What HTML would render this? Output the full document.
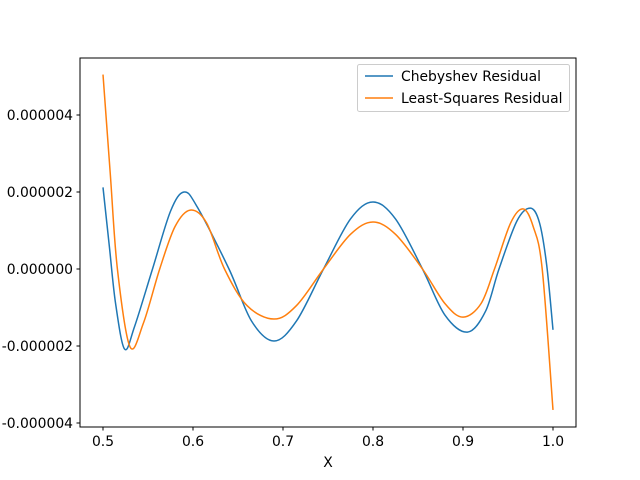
<!DOCTYPE html>
<html><head><meta charset="utf-8"><style>
body{margin:0;background:#fff}
svg{font-family:"DejaVu Sans","Liberation Sans",sans-serif;display:block}
</style></head><body>
<svg id="chart" width="640" height="480">
<rect x="0" y="0" width="640" height="480" fill="#fff"/>
<g id="plot"></g>
<rect x="80" y="58" width="496" height="369" fill="none" stroke="#000" stroke-width="1"/>
<g id="ticks"></g>
<text x="328" y="467" font-size="13.9" text-anchor="middle">X</text>
<g>
<rect x="357.5" y="64.5" width="212" height="47" rx="2" fill="#fff" fill-opacity="0.8" stroke="#ccc"/>
<line x1="365" y1="76" x2="393" y2="76" stroke="#1f77b4" stroke-width="1.5"/>
<text x="401" y="81" font-size="13.9">Chebyshev Residual</text>
<line x1="365" y1="98" x2="393" y2="98" stroke="#ff7f0e" stroke-width="1.5"/>
<text x="401" y="103" font-size="13.9">Least-Squares Residual</text>
</g>
</svg>
<script>
const xTicks=[0.5,0.6,0.7,0.8,0.9,1.0];
const yTicks=[-4,-2,0,2,4];
const yTickLabels=["-0.000004","-0.000002","0.000000","0.000002","0.000004"];
const chebX=[0.5,0.507,0.514,0.524,0.535,0.555,0.575,0.59,0.605,0.64,0.665,0.69,0.715,0.745,0.775,0.8,0.825,0.855,0.88,0.905,0.925,0.94,0.96,0.975,0.985,0.993,1.0];
const chebY=[2.12,0.6,-0.9,-2.08,-1.5,0,1.5,2.0,1.6,0,-1.35,-1.87,-1.35,0,1.3,1.74,1.3,0,-1.2,-1.64,-1.1,0,1.25,1.58,1.2,0.1,-1.58];
const lsqX=[0.5,0.508,0.516,0.53,0.545,0.563,0.58,0.597,0.615,0.635,0.66,0.69,0.715,0.745,0.775,0.8,0.825,0.855,0.88,0.9,0.92,0.935,0.953,0.967,0.978,0.988,1.0];
const lsqY=[5.05,2.5,0,-2.02,-1.4,0,1.1,1.53,1.2,0,-0.95,-1.3,-0.95,0,0.9,1.22,0.9,0,-0.9,-1.25,-0.9,0,1.2,1.56,1.1,0,-3.66];
const NS="http://www.w3.org/2000/svg";
function sx(v){return 103+(v-0.5)*900;}
function sy(v){return 269-v*38.5;}
function pathFor(xs,ys){
  const p=xs.map((x,i)=>[sx(x),sy(ys[i])]);
  let d="M"+p[0][0]+","+p[0][1];
  for(let i=0;i<p.length-1;i++){
    const p0=p[i-1]||p[i],p1=p[i],p2=p[i+1],p3=p[i+2]||p[i+1];
    const c1=[p1[0]+(p2[0]-p0[0])/6,p1[1]+(p2[1]-p0[1])/6];
    const c2=[p2[0]-(p3[0]-p1[0])/6,p2[1]-(p3[1]-p1[1])/6];
    d+=" C"+c1+" "+c2+" "+p2;
  }
  return d;
}
const plot=document.getElementById('plot');
[[chebX,chebY,"#1f77b4","chebyshev-residual-line"],[lsqX,lsqY,"#ff7f0e","least-squares-residual-line"]].forEach(s=>{
  const el=document.createElementNS(NS,'path');
  el.setAttribute('d',pathFor(s[0],s[1]));
  el.setAttribute('fill','none');el.setAttribute('stroke',s[2]);el.setAttribute('stroke-width','1.5');
  
  
  plot.appendChild(el);
});
const tk=document.getElementById('ticks');
xTicks.forEach(v=>{
  const l=document.createElementNS(NS,'line');
  l.setAttribute('x1',sx(v));l.setAttribute('x2',sx(v));l.setAttribute('y1',427);l.setAttribute('y2',430.5);l.setAttribute('stroke','#000');
  
  
  tk.appendChild(l);
  const t=document.createElementNS(NS,'text');
  t.setAttribute('x',sx(v));t.setAttribute('y',446);t.setAttribute('font-size','13.9');t.setAttribute('text-anchor','middle');
  t.textContent=v.toFixed(1);
  
  
  tk.appendChild(t);
});
yTicks.forEach((v,i)=>{
  const l=document.createElementNS(NS,'line');
  l.setAttribute('x1',76.5);l.setAttribute('x2',80);l.setAttribute('y1',sy(v));l.setAttribute('y2',sy(v));l.setAttribute('stroke','#000');
  
  
  tk.appendChild(l);
  const t=document.createElementNS(NS,'text');
  t.setAttribute('x',73);t.setAttribute('y',sy(v)+5);t.setAttribute('font-size','13.9');t.setAttribute('text-anchor','end');
  t.textContent=yTickLabels[i];
  
  
  tk.appendChild(t);
});
</script>
</body></html>
